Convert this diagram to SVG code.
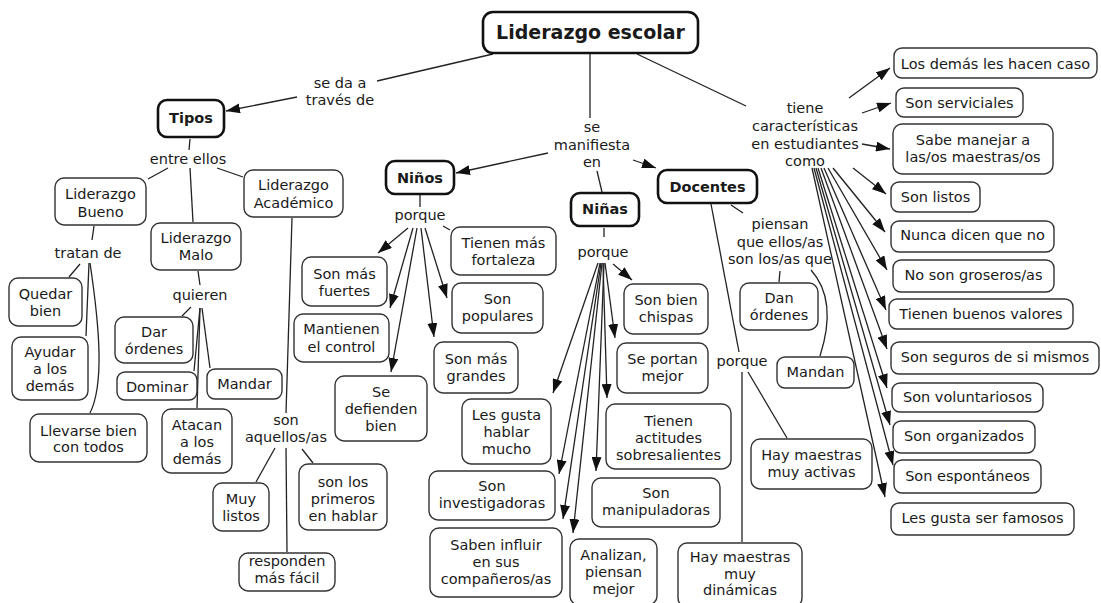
<svg xmlns="http://www.w3.org/2000/svg" width="1101" height="603" viewBox="0 0 1101 603">
<style>
.n{fill:#fff;stroke:#333;stroke-width:1.4}
.b{fill:#fff;stroke:#111;stroke-width:2.6}
text{font-family:"DejaVu Sans","Verdana",sans-serif;font-size:14.5px;fill:#1a1a1a;text-anchor:middle}
.tb{font-weight:bold}
.c line,.c path{stroke:#222;stroke-width:1.3;fill:none}
.c .a{marker-end:url(#ah)}
</style>
<defs>
<marker id="ah" viewBox="0 0 14 10" refX="14" refY="5" markerWidth="14" markerHeight="10" markerUnits="userSpaceOnUse" orient="auto">
<path d="M0,0 L14,5 L0,10 z" fill="#111"/>
</marker>
</defs>
<rect width="1101" height="603" fill="#fff"/>
<g class="c" id="connectors">
<line x1="493" y1="54" x2="377" y2="81"/>
<line class="a" x1="297" y1="97" x2="226" y2="111"/>
<line x1="590" y1="54" x2="590" y2="118"/>
<line class="a" x1="548" y1="153" x2="456" y2="173"/>
<line class="a" x1="633" y1="160" x2="656" y2="168"/>
<line x1="597" y1="171" x2="602" y2="192"/>
<line x1="637" y1="54" x2="746" y2="106"/>
<line x1="190" y1="139" x2="189" y2="150"/>
<line x1="168" y1="168" x2="148" y2="179"/>
<line x1="190" y1="168" x2="193" y2="222"/>
<line x1="217" y1="168" x2="243" y2="177"/>
<line x1="94" y1="226" x2="92" y2="240"/>
<line x1="80" y1="264" x2="69" y2="277"/>
<line x1="89" y1="263" x2="86" y2="336"/>
<path d="M90,263 C100,330 104,385 90,413"/>
<line x1="198" y1="271" x2="200" y2="285"/>
<line x1="191" y1="307" x2="182" y2="316"/>
<line x1="200" y1="308" x2="194" y2="371"/>
<line x1="202" y1="308" x2="210" y2="368"/>
<line x1="200" y1="308" x2="197" y2="408"/>
<line x1="292" y1="218" x2="286" y2="413"/>
<line x1="275" y1="448" x2="256" y2="482"/>
<line x1="286" y1="448" x2="287" y2="552"/>
<line x1="302" y1="449" x2="313" y2="463"/>
<line x1="420" y1="195" x2="420" y2="207"/>
<line class="a" x1="408" y1="228" x2="378" y2="253"/>
<line class="a" x1="413" y1="228" x2="390" y2="308"/>
<line class="a" x1="417" y1="228" x2="391" y2="372"/>
<line class="a" x1="421" y1="228" x2="434" y2="337"/>
<line class="a" x1="425" y1="228" x2="447" y2="298"/>
<line x1="443" y1="226" x2="450" y2="230"/>
<line x1="604" y1="228" x2="604" y2="237"/>
<line class="a" x1="613" y1="264" x2="632" y2="280"/>
<line class="a" x1="605" y1="263" x2="615" y2="338"/>
<line class="a" x1="603" y1="263" x2="607" y2="398"/>
<line class="a" x1="598" y1="263" x2="553" y2="393"/>
<line class="a" x1="600" y1="263" x2="559" y2="474"/>
<line class="a" x1="601" y1="263" x2="563" y2="519"/>
<line class="a" x1="602" y1="263" x2="573" y2="533"/>
<line class="a" x1="604" y1="263" x2="596" y2="471"/>
<line x1="731" y1="205" x2="743" y2="213"/>
<line x1="780" y1="271" x2="779" y2="282"/>
<path d="M811,270 Q838,300 820,356"/>
<line x1="711" y1="204" x2="739" y2="352"/>
<line x1="748" y1="372" x2="787" y2="438"/>
<line x1="742" y1="372" x2="742" y2="542"/>
<line class="a" x1="849" y1="98" x2="890" y2="68"/>
<line class="a" x1="862" y1="113" x2="891" y2="103"/>
<line class="a" x1="862" y1="144" x2="890" y2="149"/>
<line class="a" x1="853" y1="168" x2="886" y2="194"/>
<line class="a" x1="833" y1="168" x2="885" y2="232"/>
<line class="a" x1="828" y1="168" x2="887" y2="270"/>
<line class="a" x1="824" y1="168" x2="886" y2="310"/>
<line class="a" x1="821" y1="168" x2="887" y2="349"/>
<line class="a" x1="818" y1="168" x2="887" y2="388"/>
<line class="a" x1="816" y1="168" x2="890" y2="425"/>
<line class="a" x1="814" y1="168" x2="893" y2="465"/>
<line class="a" x1="812" y1="168" x2="885" y2="497"/>
</g>
<g id="labels">
<text x="340" y="88">se da a</text><text x="340" y="105">través de</text>
<text x="188" y="164">entre ellos</text>
<text x="88" y="258">tratan de</text>
<text x="200" y="300">quieren</text>
<text x="286" y="425">son</text><text x="286" y="442">aquellos/as</text>
<text x="592" y="132">se</text><text x="592" y="150">manifiesta</text><text x="592" y="167">en</text>
<text x="420" y="220">porque</text>
<text x="603" y="257">porque</text>
<text x="780" y="229">piensan</text><text x="780" y="247">que ellos/as</text><text x="780" y="264">son los/as que</text>
<text x="742" y="366">porque</text>
<text x="805" y="113">tiene</text><text x="805" y="131">características</text><text x="805" y="149">en estudiantes</text><text x="805" y="166">como</text>
</g>
<g id="n-main"><rect class="b" x="483" y="12" width="215" height="41" rx="10"/><text class="tb" x="590.5" y="39" style="font-size:19px">Liderazgo escolar</text></g>
<g id="n-tipos"><rect class="b" x="158" y="100" width="66" height="37" rx="9"/><text class="tb" x="191" y="123">Tipos</text></g>
<g id="n-ninos"><rect class="b" x="386" y="161" width="68" height="33" rx="9"/><text class="tb" x="420" y="183">Niños</text></g>
<g id="n-ninas"><rect class="b" x="571" y="193" width="68" height="33" rx="9"/><text class="tb" x="605" y="214">Niñas</text></g>
<g id="n-docentes"><rect class="b" x="658" y="170" width="99" height="33" rx="9"/><text class="tb" x="707.5" y="192">Docentes</text></g>
<g id="n-bueno"><rect class="n" x="55" y="178" width="91" height="47" rx="9"/><text x="100.5" y="199">Liderazgo</text><text x="100.5" y="217">Bueno</text></g>
<g id="n-academico"><rect class="n" x="244" y="170" width="99" height="47" rx="9"/><text x="293.5" y="190">Liderazgo</text><text x="293.5" y="208">Académico</text></g>
<g id="n-malo"><rect class="n" x="151" y="223" width="90" height="47" rx="9"/><text x="196" y="243">Liderazgo</text><text x="196" y="260">Malo</text></g>
<g id="n-quedar"><rect class="n" x="9" y="278" width="73" height="48" rx="9"/><text x="45.5" y="299">Quedar</text><text x="45.5" y="316">bien</text></g>
<g id="n-ayudar"><rect class="n" x="12" y="337" width="76" height="63" rx="9"/><text x="50" y="357">Ayudar</text><text x="50" y="374">a los</text><text x="50" y="391">demás</text></g>
<g id="n-llevarse"><rect class="n" x="30" y="414" width="117" height="48" rx="9"/><text x="88.5" y="436">Llevarse bien</text><text x="88.5" y="452">con todos</text></g>
<g id="n-dar"><rect class="n" x="115" y="317" width="78" height="46" rx="9"/><text x="154" y="337">Dar</text><text x="154" y="354">órdenes</text></g>
<g id="n-dominar"><rect class="n" x="117" y="372" width="80" height="28" rx="8"/><text x="157" y="392">Dominar</text></g>
<g id="n-mandar"><rect class="n" x="207" y="369" width="75" height="30" rx="8"/><text x="244.5" y="389">Mandar</text></g>
<g id="n-atacan"><rect class="n" x="162" y="409" width="70" height="64" rx="9"/><text x="197" y="430">Atacan</text><text x="197" y="447">a los</text><text x="197" y="464">demás</text></g>
<g id="n-muylistos"><rect class="n" x="213" y="483" width="56" height="48" rx="9"/><text x="241" y="504">Muy</text><text x="241" y="521">listos</text></g>
<g id="n-primeros"><rect class="n" x="299" y="464" width="88" height="66" rx="9"/><text x="343" y="487">son los</text><text x="343" y="504">primeros</text><text x="343" y="521">en hablar</text></g>
<g id="n-responden"><rect class="n" x="239" y="553" width="96" height="38" rx="9"/><text x="287" y="566">responden</text><text x="287" y="583">más fácil</text></g>
<g id="n-fuertes"><rect class="n" x="302" y="257" width="85" height="49" rx="9"/><text x="344.5" y="279">Son más</text><text x="344.5" y="296">fuertes</text></g>
<g id="n-mantienen"><rect class="n" x="294" y="314" width="95" height="48" rx="9"/><text x="341.5" y="334">Mantienen</text><text x="341.5" y="352">el control</text></g>
<g id="n-defienden"><rect class="n" x="335" y="376" width="92" height="65" rx="9"/><text x="381" y="397">Se</text><text x="381" y="414">defienden</text><text x="381" y="431">bien</text></g>
<g id="n-fortaleza"><rect class="n" x="451" y="227" width="105" height="48" rx="9"/><text x="503.5" y="248">Tienen más</text><text x="503.5" y="265">fortaleza</text></g>
<g id="n-populares"><rect class="n" x="452" y="283" width="91" height="50" rx="9"/><text x="497.5" y="304">Son</text><text x="497.5" y="321">populares</text></g>
<g id="n-grandes"><rect class="n" x="434" y="342" width="84" height="51" rx="9"/><text x="476" y="364">Son más</text><text x="476" y="381">grandes</text></g>
<g id="n-chispas"><rect class="n" x="624" y="284" width="84" height="50" rx="9"/><text x="666" y="305">Son bien</text><text x="666" y="322">chispas</text></g>
<g id="n-portan"><rect class="n" x="617" y="343" width="91" height="50" rx="9"/><text x="662.5" y="364">Se portan</text><text x="662.5" y="381">mejor</text></g>
<g id="n-actitudes"><rect class="n" x="606" y="404" width="125" height="65" rx="9"/><text x="668.5" y="426">Tienen</text><text x="668.5" y="443">actitudes</text><text x="668.5" y="460">sobresalientes</text></g>
<g id="n-hablar"><rect class="n" x="462" y="399" width="89" height="65" rx="9"/><text x="506.5" y="420">Les gusta</text><text x="506.5" y="437">hablar</text><text x="506.5" y="454">mucho</text></g>
<g id="n-investigadoras"><rect class="n" x="429" y="471" width="126" height="49" rx="9"/><text x="492" y="491">Son</text><text x="492" y="508">investigadoras</text></g>
<g id="n-manipuladoras"><rect class="n" x="592" y="478" width="128" height="49" rx="9"/><text x="656" y="498">Son</text><text x="656" y="515">manipuladoras</text></g>
<g id="n-influir"><rect class="n" x="430" y="528" width="132" height="69" rx="9"/><text x="496" y="550">Saben influir</text><text x="496" y="567">en sus</text><text x="496" y="584">compañeros/as</text></g>
<g id="n-analizan"><rect class="n" x="570" y="539" width="87" height="66" rx="9"/><text x="613.5" y="560">Analizan,</text><text x="613.5" y="577">piensan</text><text x="613.5" y="594">mejor</text></g>
<g id="n-danordenes"><rect class="n" x="740" y="283" width="78" height="47" rx="9"/><text x="779" y="303">Dan</text><text x="779" y="320">órdenes</text></g>
<g id="n-mandan"><rect class="n" x="777" y="357" width="77" height="31" rx="8"/><text x="815.5" y="377">Mandan</text></g>
<g id="n-activas"><rect class="n" x="751" y="439" width="121" height="50" rx="9"/><text x="811.5" y="460">Hay maestras</text><text x="811.5" y="477">muy activas</text></g>
<g id="n-dinamicas"><rect class="n" x="678" y="543" width="124" height="64" rx="9"/><text x="740" y="562">Hay maestras</text><text x="740" y="579">muy</text><text x="740" y="595">dinámicas</text></g>
<g id="n-caso"><rect class="n" x="894" y="48" width="203" height="30" rx="8"/><text x="995.5" y="69">Los demás les hacen caso</text></g>
<g id="n-serviciales"><rect class="n" x="896" y="88" width="127" height="29" rx="8"/><text x="959.5" y="108">Son serviciales</text></g>
<g id="n-manejar"><rect class="n" x="893" y="124" width="160" height="50" rx="9"/><text x="973" y="145">Sabe manejar a</text><text x="973" y="162">las/os maestras/os</text></g>
<g id="n-listos"><rect class="n" x="891" y="182" width="89" height="30" rx="8"/><text x="935.5" y="202">Son listos</text></g>
<g id="n-nunca"><rect class="n" x="891" y="221" width="163" height="31" rx="8"/><text x="972.5" y="240">Nunca dicen que no</text></g>
<g id="n-groseros"><rect class="n" x="893" y="260" width="161" height="32" rx="8"/><text x="973.5" y="280">No son groseros/as</text></g>
<g id="n-valores"><rect class="n" x="889" y="299" width="184" height="30" rx="8"/><text x="981" y="319">Tienen buenos valores</text></g>
<g id="n-seguros"><rect class="n" x="891" y="342" width="208" height="32" rx="8"/><text x="995" y="362">Son seguros de si mismos</text></g>
<g id="n-voluntariosos"><rect class="n" x="892" y="383" width="151" height="29" rx="8"/><text x="967.5" y="402">Son voluntariosos</text></g>
<g id="n-organizados"><rect class="n" x="893" y="421" width="142" height="32" rx="8"/><text x="964" y="441">Son organizados</text></g>
<g id="n-espontaneos"><rect class="n" x="894" y="460" width="147" height="33" rx="8"/><text x="967.5" y="481">Son espontáneos</text></g>
<g id="n-famosos"><rect class="n" x="891" y="503" width="183" height="32" rx="8"/><text x="982.5" y="523">Les gusta ser famosos</text></g>
</svg>
